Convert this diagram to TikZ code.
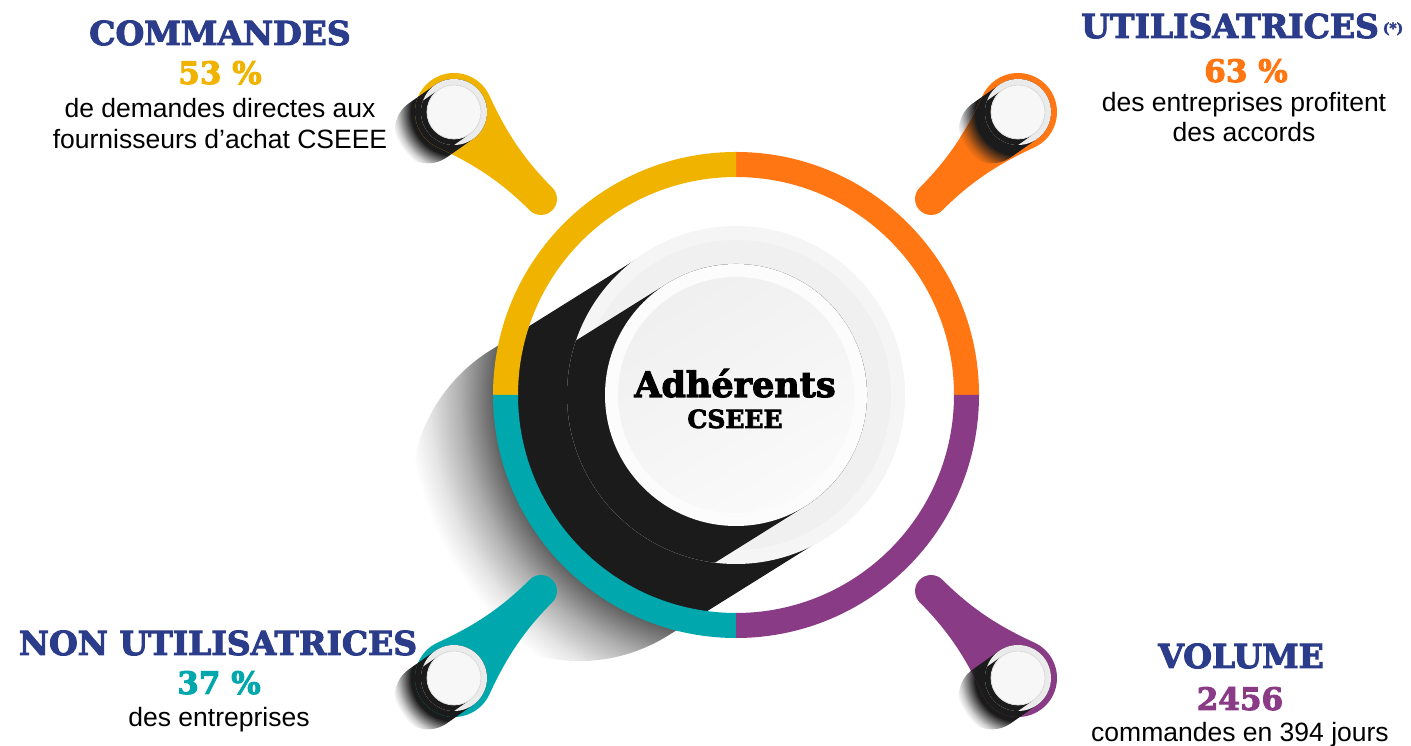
\documentclass[tikz,border=0pt]{standalone}
\usepackage{fontspec}
\setmainfont{Liberation Sans}
\newfontfamily\slab{DejaVu Serif Bold}[FakeBold=3]
\definecolor{cgold}{HTML}{F0B400}
\definecolor{corange}{HTML}{FF7613}
\definecolor{cteal}{HTML}{00A8AE}
\definecolor{cpurple}{HTML}{8A3B86}
\definecolor{cnavy}{HTML}{2B3D8A}
\definecolor{cshadow}{HTML}{1B1B1B}
\definecolor{plate}{HTML}{F5F5F5}
\definecolor{plateb}{HTML}{F0F0F0}
\pgfdeclareradialshading{mainrad}{\pgfpoint{0bp}{0bp}}{color(0bp)=(cshadow); color(218bp)=(cshadow); color(243bp)=(cshadow!68!white); color(275bp)=(cshadow!35!white); color(305bp)=(cshadow!12!white); color(328bp)=(white); color(360bp)=(white)}
\newcommand\declpinrad[1]{%
  \pgfdeclareradialshading{pinrad#1}{\pgfpoint{0bp}{0bp}}{color(0bp)=(cshadow); color(43bp)=(cshadow); color(51bp)=(cshadow!55!#1); color(57bp)=(cshadow!22!#1); color(63bp)=(#1); color(70bp)=(#1)}}
\declpinrad{white}
\declpinrad{cgold}
\declpinrad{corange}
\declpinrad{cteal}
\declpinrad{cpurple}
\newcommand\pinpath{(70:39) arc[start angle=70,end angle=290,radius=39]
      .. controls (46,-24.6) and (78,-16) .. (123,-16)
      arc[start angle=-90,end angle=90,radius=16]
      .. controls (78,16) and (46,24.6) .. (70:39) -- cycle}
\newcommand\pinband{(0,33) -- (32,33) arc[start angle=90,end angle=-90,radius=33] -- (0,-33) arc[start angle=270,end angle=90,radius=33] -- cycle}
\newcommand\pinshape[4]{%
  \begin{scope}
    \clip[shift={(#1,#2)}, rotate=215] \pinband;
    \node[inner sep=0pt] at (#1,#2) {\pgfuseshading{pinradwhite}};
  \end{scope}
  \fill[#4, shift={(#1,#2)}, rotate=#3] \pinpath;
  \begin{scope}
    \clip[shift={(#1,#2)}, rotate=#3] \pinpath;
    \clip[shift={(#1,#2)}, rotate=215] \pinband;
    \node[inner sep=0pt] at (#1,#2) {\pgfuseshading{pinrad#4}};
  \end{scope}
  \fill[headring] (#1,#2) circle (33);
  \begin{scope}
    \clip (#1,#2) circle (33);
    \fill[cshadow, shift={(#1,#2)}, rotate=215] (0,27) -- (40,27) -- (40,-27) -- (0,-27) arc[start angle=270,end angle=90,radius=27] -- cycle;
  \end{scope}
  \fill[headdisc] (#1,#2) circle (27);
}
\tikzset{
  headring/.style={fill=black!8},
  headdisc/.style={fill=black!3, draw=black!12, line width=0.8pt},
  headtxt/.style={font=\slab\fontsize{33}{33}\selectfont, text=cnavy, inner sep=0pt, anchor=base},
  numtxt/.style={font=\slab\fontsize{31}{31}\selectfont, inner sep=0pt, anchor=base},
  bodytxt/.style={font=\fontsize{26.5}{32}\selectfont, text=black, inner sep=0pt, anchor=base},
  ctrtxt/.style={font=\slab\fontsize{#1}{#1}\selectfont, text=black, inner sep=0pt, anchor=base},
}
\begin{document}
\begin{tikzpicture}[x=1pt,y=1pt]
\useasboundingbox (0,0) rectangle (1411,746);
\fill[white] (0,0) rectangle (1411,746);
% main long shadow
\begin{scope}
  \clip[shift={(736,351)}, rotate=212] (0,168) -- (185,168) arc[start angle=90,end angle=-90,radius=168] -- (0,-168) arc[start angle=270,end angle=90,radius=168] -- cycle;
  \node[inner sep=0pt] (mainshadow) at (736,351) {\pgfuseshading{mainrad}};
\end{scope}
% ring
\begin{scope}[shift={(736,351)}]
  \fill[corange] (0:243) arc[start angle=0,end angle=90,radius=243] -- (90:218) arc[start angle=90,end angle=0,radius=218] -- cycle;
  \fill[cgold] (90:243) arc[start angle=90,end angle=180,radius=243] -- (180:218) arc[start angle=180,end angle=90,radius=218] -- cycle;
  \fill[cteal] (180:243) arc[start angle=180,end angle=270,radius=243] -- (270:218) arc[start angle=270,end angle=180,radius=218] -- cycle;
  \fill[cpurple] (270:243) arc[start angle=270,end angle=360,radius=243] -- (0:218) arc[start angle=360,end angle=270,radius=218] -- cycle;
\end{scope}
% pins
\pinshape{454}{634}{-45}{cgold}
\pinshape{1018}{634}{-135}{corange}
\pinshape{454}{68}{45}{cteal}
\pinshape{1018}{68}{135}{cpurple}
% central plates
\fill[plate] (736,351) circle (169);
\fill[plateb] (736,351) circle (155);
\begin{scope}
  \clip (736,351) circle (169);
  \fill[cshadow, shift={(736,351)}, rotate=212] (0,131) -- (320,131) -- (320,-131) -- (0,-131) arc[start angle=270,end angle=90,radius=131] -- cycle;
\end{scope}
\fill[black!1] (736,351) circle (131);
\shade[top color=black!6, bottom color=black!2, shading angle=30] (736,351) circle (118);
% texts
\node[ctrtxt=35] (adh) at (735,349) {Adhérents};
\node[ctrtxt=25] (cseee) at (735,318) {CSEEE};
\node[headtxt] (commandes) at (220,701) {COMMANDES};
\node[numtxt, text=cgold] (p53) at (220,662) {53 \%};
\node[bodytxt] (tl1) at (220,628) {de demandes directes aux};
\node[bodytxt] (tl2) at (220,597) {fournisseurs d’achat CSEEE};
\node[headtxt] (utilis) at (1230,708) {UTILISATRICES};
\node[font=\slab\fontsize{14}{14}\selectfont, text=cnavy, inner sep=0pt, anchor=base] (ast) at (1393,713) {(*)};
\node[numtxt, text=corange] (p63) at (1246,664) {63 \%};
\node[bodytxt] (tr1) at (1244,634) {des entreprises profitent};
\node[bodytxt] (tr2) at (1244,604) {des accords};
\node[headtxt] (nonutil) at (218,91) {NON UTILISATRICES};
\node[numtxt, text=cteal] (p37) at (219,52) {37 \%};
\node[bodytxt] (bl1) at (219,19) {des entreprises};
\node[headtxt] (volume) at (1241,78) {VOLUME};
\node[numtxt, text=cpurple] (n2456) at (1240,36) {2456};
\node[bodytxt] (br1) at (1240,4) {commandes en 394 jours};
\end{tikzpicture}
\end{document}
